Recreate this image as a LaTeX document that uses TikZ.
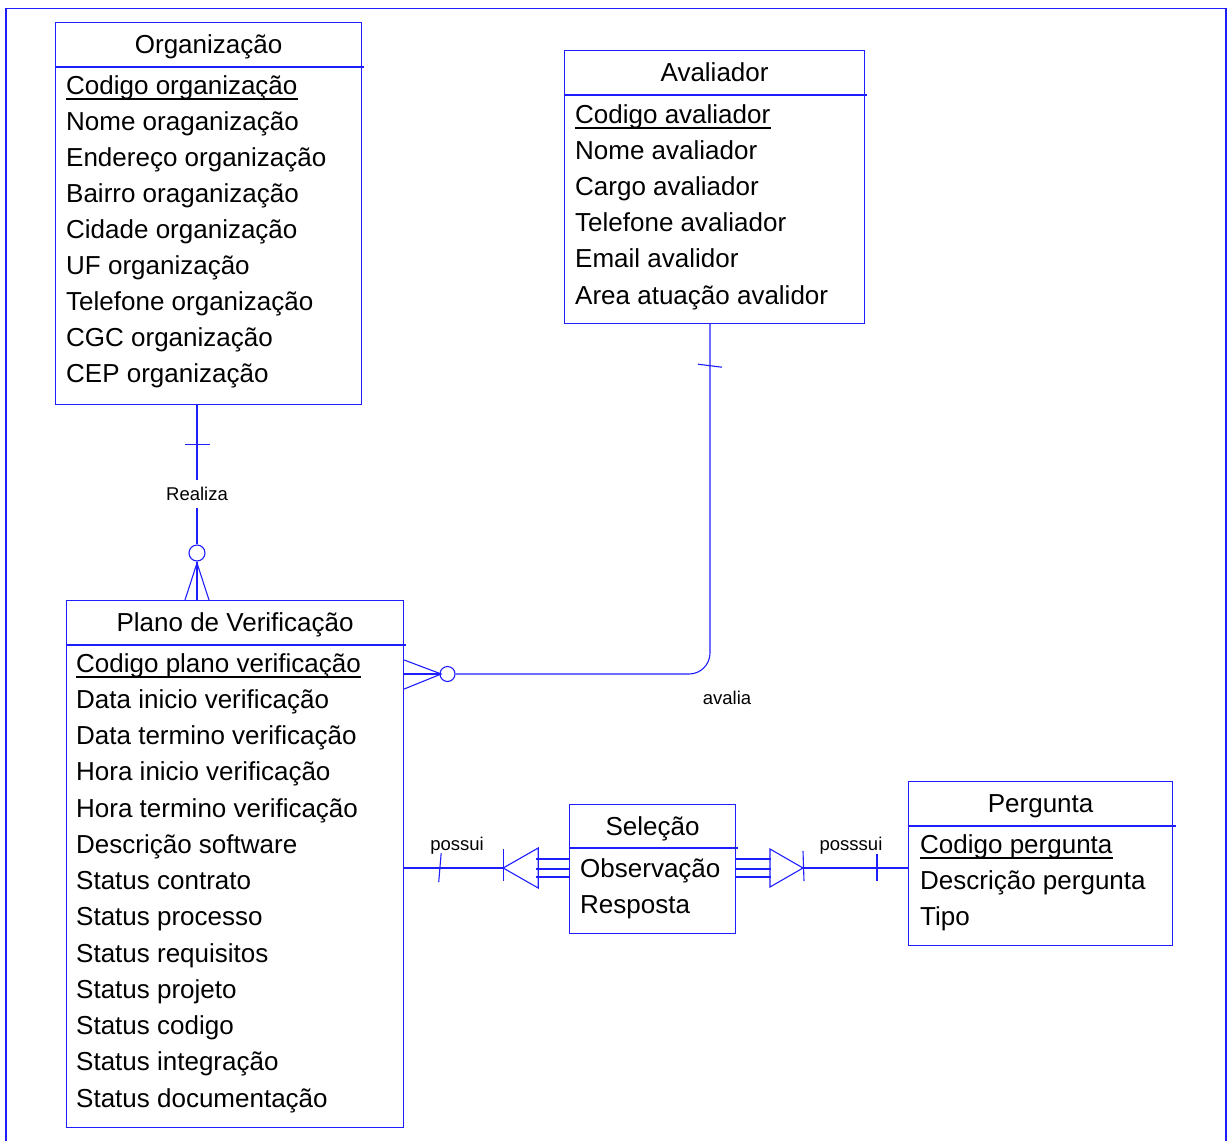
\documentclass[tikz,border=0pt]{standalone}
\usepackage{fontspec}
\setmainfont{Liberation Sans}
\definecolor{erblue}{RGB}{30,30,255}
\begin{document}
\begin{tikzpicture}[x=1pt,y=-1pt,
  ent/.style={draw=erblue, line width=1.2pt, inner sep=0pt, anchor=north west},
  sep/.style={draw=erblue, line width=1.2pt},
  link/.style={draw=erblue, line width=1.1pt},
  ring/.style={circle, draw=erblue, line width=1.1pt, inner sep=0pt},
  attr/.style={anchor=base west, inner sep=0pt, font=\fontsize{26}{30}\selectfont},
  ttl/.style={anchor=base, inner sep=0pt, font=\fontsize{26}{30}\selectfont},
  lbl/.style={inner sep=0pt, font=\fontsize{18.5}{22}\selectfont},
  key/.style={black, line width=2pt}]

\useasboundingbox (0,0) rectangle (1227,1141);

% page frame
\draw[erblue, line width=1.3pt] (5,8.5) -- (1227,8.5);
\draw[erblue, line width=1.3pt] (6,8.5) -- (6,1141);
\draw[erblue, line width=1.6pt] (1226.2,8.5) -- (1226.2,1141);

% ---------------- Organização ----------------
\node[ent, minimum width=306pt, minimum height=382pt] (org) at (55,22) {};
\draw[sep] ([yshift=-45pt]org.north west) -- ([yshift=-45pt,xshift=2pt]org.north east);
\node[ttl] (orgT) at ([yshift=-31pt]org.north) {Organização};
\node[attr] (org0) at (66,94) {Codigo organização};
\draw[key] ([yshift=-4.5pt]org0.base west) -- ([yshift=-4.5pt]org0.base east);
\foreach \t [count=\i] in {Nome oraganização, Endereço organização, Bairro oraganização,
    Cidade organização, UF organização, Telefone organização, CGC organização, CEP organização}
  \node[attr] (org\i) at (66,94+36*\i) {\t};

% ---------------- Avaliador ----------------
\node[ent, minimum width=300pt, minimum height=273pt] (aval) at (564,50) {};
\draw[sep] ([yshift=-45pt]aval.north west) -- ([yshift=-45pt,xshift=2pt]aval.north east);
\node[ttl] (avalT) at ([yshift=-31pt]aval.north) {Avaliador};
\node[attr] (aval0) at (575,123) {Codigo avaliador};
\draw[key] ([yshift=-4.5pt]aval0.base west) -- ([yshift=-4.5pt]aval0.base east);
\foreach \t [count=\i] in {Nome avaliador, Cargo avaliador, Telefone avaliador,
    Email avalidor, Area atuação avalidor}
  \node[attr] (aval\i) at (575,123+36.2*\i) {\t};

% ---------------- Plano de Verificação ----------------
\node[ent, minimum width=337pt, minimum height=527pt] (plano) at (66,600) {};
\draw[sep] ([yshift=-45pt]plano.north west) -- ([yshift=-45pt,xshift=2pt]plano.north east);
\node[ttl] (planoT) at ([yshift=-31pt]plano.north) {Plano de Verificação};
\node[attr] (plano0) at (76,672) {Codigo plano verificação};
\draw[key] ([yshift=-4.5pt]plano0.base west) -- ([yshift=-4.5pt]plano0.base east);
\foreach \t [count=\i] in {Data inicio verificação, Data termino verificação,
    Hora inicio verificação, Hora termino verificação, Descrição software,
    Status contrato, Status processo, Status requisitos, Status projeto,
    Status codigo, Status integração, Status documentação}
  \node[attr] (plano\i) at (76,672+36.25*\i) {\t};

% ---------------- Seleção ----------------
\node[ent, minimum width=166pt, minimum height=129pt] (sel) at (569,804) {};
\draw[sep] ([yshift=-44pt]sel.north west) -- ([yshift=-44pt,xshift=2pt]sel.north east);
\node[ttl] (selT) at ([yshift=-31pt]sel.north) {Seleção};
\node[attr] (sel1) at (580,877) {Observação};
\node[attr] (sel2) at (580,913) {Resposta};

% ---------------- Pergunta ----------------
\node[ent, minimum width=264pt, minimum height=164pt] (perg) at (908,781) {};
\draw[sep] ([yshift=-45pt]perg.north west) -- ([yshift=-45pt,xshift=3pt]perg.north east);
\node[ttl] (pergT) at ([yshift=-31pt]perg.north) {Pergunta};
\node[attr] (perg0) at (920,853) {Codigo pergunta};
\draw[key] ([yshift=-4.5pt]perg0.base west) -- ([yshift=-4.5pt]perg0.base east);
\node[attr] (perg1) at (920,889) {Descrição pergunta};
\node[attr] (perg2) at (920,925) {Tipo};

% ---------------- Realiza: Organização 1 -- N Plano ----------------
\coordinate (rTop) at ([xshift=142pt]org.south west);
\coordinate (rBot) at ([xshift=131pt]plano.north west);
\node[lbl, minimum height=27pt] (realiza) at (197,494) {Realiza};
\node[ring, minimum size=16pt] (rc) at (197,553) {};
\draw[link] (rTop) -- (realiza);
\draw[link] (realiza) -- (rc);
\draw[link] (rc) -- (rBot);
\draw[link] ([xshift=-12pt,yshift=-39pt]rTop) -- ([xshift=13pt,yshift=-39pt]rTop);
\draw[link] ([xshift=-12pt]rBot) -- ([yshift=37pt]rBot) -- ([xshift=12pt]rBot);

% ---------------- avalia: Avaliador 1 -- N Plano ----------------
\coordinate (aTop) at ([xshift=146pt]aval.south west);
\node[ring, minimum size=15pt] (ac) at (447.5,674) {};
\coordinate (pA) at (plano.east |- ac);
\draw[link, rounded corners=21pt] (aTop) |- (ac);
\draw[link] ([xshift=-12pt,yshift=-40pt]aTop) -- ([xshift=12pt,yshift=-43pt]aTop);
\draw[link] (ac) -- (pA);
\draw[link] ([yshift=14pt]pA) -- ([xshift=37pt]pA) -- ([yshift=-15pt]pA);
\node[lbl, anchor=base] (avalia) at (727,704) {avalia};

% ---------------- possui: Plano -- Seleção ----------------
\coordinate (selY) at (0,868);
\coordinate (pS) at (plano.east |- selY);
\coordinate (selL) at (sel.west |- selY);
\coordinate (barL) at ([xshift=99pt]pS);
\draw[link] (pS) -- (barL);
\draw[link] ([xshift=37pt,yshift=15pt]pS) -- ([xshift=34.5pt,yshift=-14pt]pS);
\draw[link] ([yshift=19pt]barL) -- ([yshift=-13pt]barL);
\draw[link] (barL) -- ++(35,-20) -- ++(0,40) -- cycle;
\foreach \dy in {-9,1,9}
  \draw[link] (selL) ++(0,\dy) -- ++(-33,0);
\node[lbl, anchor=base] (possui) at (457,850) {possui};

% ---------------- posssui: Seleção -- Pergunta ----------------
\coordinate (selR) at (sel.east |- selY);
\coordinate (pgL) at (perg.west |- selY);
\coordinate (barR) at ([xshift=-105pt]pgL);
\foreach \dy in {-9,1,9}
  \draw[link] (selR) ++(0,\dy) -- ++(35,0);
\draw[link] (barR) -- ++(-33,-19) -- ++(0,38) -- cycle;
\draw[link] ([yshift=17pt]barR) -- ([xshift=1pt,yshift=-13pt]barR);
\draw[link] (barR) -- (pgL);
\draw[link] ([xshift=-31pt,yshift=14pt]pgL) -- ([xshift=-31pt,yshift=-13pt]pgL);
\node[lbl, anchor=base] (posssui) at (851,850) {posssui};

\end{tikzpicture}
\end{document}
